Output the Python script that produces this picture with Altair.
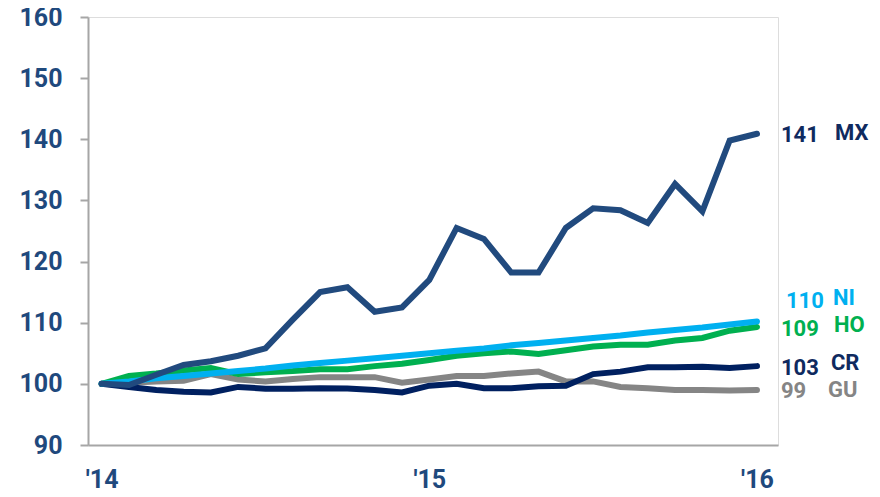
import altair as alt
import pandas as pd

months = list(range(25))
series_names = ["GU", "CR", "HO", "NI", "MX"]

mx = [100, 99.8, 101.5, 103.1, 103.7, 104.6, 105.8, 110.5, 115.0, 115.8, 111.8, 112.5, 117.0,
      125.5, 123.7, 118.2, 118.2, 125.5, 128.7, 128.4, 126.3, 132.7, 128.2, 139.8, 140.9]
ni = [100, 100.4, 100.9, 101.3, 101.7, 102.1, 102.5, 103.0, 103.4, 103.8, 104.2, 104.6, 105.0,
      105.4, 105.8, 106.3, 106.7, 107.1, 107.5, 107.9, 108.4, 108.8, 109.2, 109.7, 110.2]
ho = [100, 101.3, 101.7, 102.2, 102.6, 101.6, 101.9, 102.1, 102.4, 102.4, 102.9, 103.3, 103.9,
      104.6, 105.0, 105.3, 104.9, 105.5, 106.1, 106.4, 106.4, 107.1, 107.5, 108.7, 109.3]
cr = [100, 99.5, 99.0, 98.7, 98.6, 99.5, 99.2, 99.2, 99.3, 99.25, 99.0, 98.6, 99.7,
      100.0, 99.3, 99.3, 99.6, 99.7, 101.6, 102.0, 102.7, 102.7, 102.8, 102.6, 102.9]
gu = [100, 100.2, 100.4, 100.5, 101.6, 100.7, 100.4, 100.8, 101.1, 101.1, 101.1, 100.2, 100.7,
      101.3, 101.3, 101.7, 102.0, 100.4, 100.4, 99.5, 99.3, 99.0, 99.0, 98.9, 99.0]

x_tick_values = [0, 12, 24]
x_tick_labels = ["'14", "'15", "'16"]

end_values = ["141", "110", "109", "103", "99"]
end_series = ["MX", "NI", "HO", "CR", "GU"]

colors = {"MX": "#214A7E", "NI": "#00B0F0", "HO": "#00B050", "CR": "#002060", "GU": "#858585"}
text_colors = {"MX": "#0F2A5F", "NI": "#00B0F0", "HO": "#00B050", "CR": "#0F2A5F", "GU": "#858585"}

vals = {"MX": mx, "NI": ni, "HO": ho, "CR": cr, "GU": gu}
rows = []
for s in series_names:
    for m, v in zip(months, vals[s]):
        rows.append({"month": m, "value": v, "series": s, "order": series_names.index(s)})
df = pd.DataFrame(rows)

label_expr = ("datum.value == %d ? \"%s\" : datum.value == %d ? \"%s\" : \"%s\""
              % (x_tick_values[0], x_tick_labels[0], x_tick_values[1], x_tick_labels[1], x_tick_labels[2]))

FONT = "Roboto"
AXIS_COLOR = "#1F497D"

x_enc = alt.X("month:Q",
              scale=alt.Scale(domain=[-0.5, 24.77], nice=False, zero=False),
              axis=alt.Axis(values=x_tick_values, labelExpr=label_expr, title=None, grid=False,
                            ticks=False, domainColor="#A6A6A6", domainWidth=2,
                            labelFont=FONT, labelFontSize=25, labelFontWeight="bold",
                            labelColor=AXIS_COLOR, labelPadding=22, labelAlign="center"))
y_enc = alt.Y("value:Q",
              scale=alt.Scale(domain=[90, 160], nice=False, zero=False),
              axis=alt.Axis(values=list(range(90, 161, 10)), title=None, grid=False,
                            tickSize=8, tickColor="#A6A6A6", tickWidth=2,
                            domainColor="#A6A6A6", domainWidth=2,
                            labelFont=FONT, labelFontSize=25, labelFontWeight="bold",
                            labelColor=AXIS_COLOR, labelPadding=18))

lines = alt.Chart(df).mark_line(strokeWidth=6, strokeCap="round", strokeJoin="miter").encode(
    x=x_enc, y=y_enc,
    color=alt.Color("series:N", scale=alt.Scale(domain=list(colors.keys()), range=list(colors.values())), legend=None),
    order=alt.Order("order:Q"),
    detail="series:N",
)

layers = [lines]
num_dy = {"MX": 1, "NI": -20, "HO": 2, "CR": 2, "GU": 1}
name_dy = {"MX": -1, "NI": -23, "HO": -2, "CR": -3, "GU": 0}
name_dx = {"MX": 78, "NI": 76, "HO": 77, "CR": 74, "GU": 71}
for lab, s in zip(end_values, end_series):
    d = pd.DataFrame({"month": [24], "value": [vals[s][-1]], "lab": [lab], "name": [s]})
    layers.append(alt.Chart(d).mark_text(
        align="left", baseline="middle", dx=24 if lab != "110" else 29, dy=num_dy[s],
        font=FONT, fontSize=22, fontWeight="bold", color=text_colors[s]
    ).encode(x="month:Q", y="value:Q", text="lab:N"))
    layers.append(alt.Chart(d).mark_text(
        align="left", baseline="middle", dx=name_dx[s], dy=name_dy[s],
        font=FONT, fontSize=22, fontWeight="bold", color=text_colors[s]
    ).encode(x="month:Q", y="value:Q", text="name:N"))

chart = alt.layer(*layers).properties(
    width=690, height=428,
    autosize=alt.AutoSizeParams(type="none"),
    padding={"left": 80, "top": 9, "right": 94, "bottom": 52},
).configure_view(stroke=None).configure(background="white")

chart.save("out.html", embed_options={"renderer": "svg", "actions": False})
